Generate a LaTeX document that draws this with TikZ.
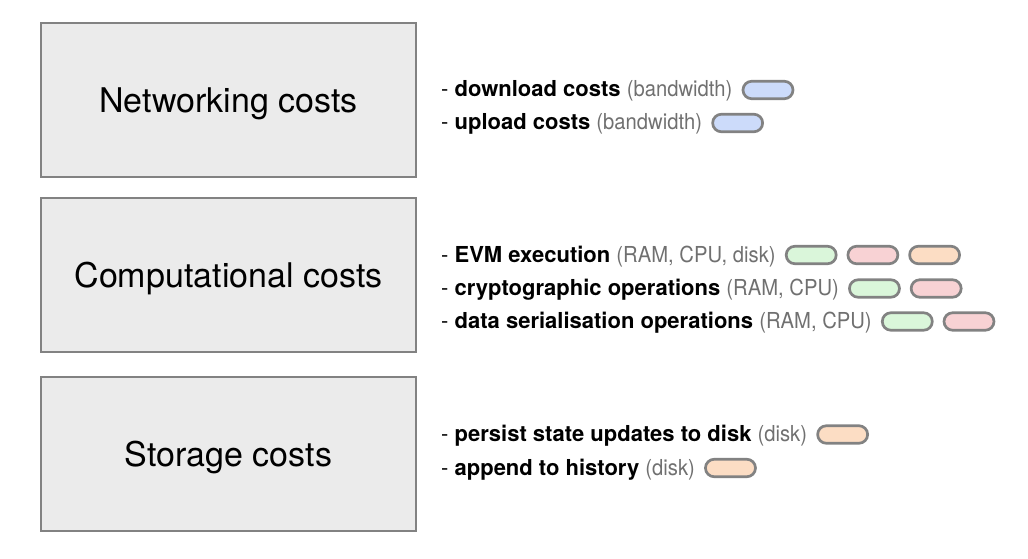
\documentclass[tikz,border=0pt]{standalone}
\usepackage{fontspec}
\setmainfont{TeX Gyre Heros}
\newfontfamily\litefont{TeX Gyre Heros}[FakeStretch=0.92]
\usetikzlibrary{positioning}
\definecolor{boxfill}{HTML}{EBEBEB}
\definecolor{edge}{HTML}{828282}
\definecolor{lightink}{HTML}{707070}
\definecolor{bwfill}{HTML}{CCDBFA}
\definecolor{ramfill}{HTML}{DAF6DA}
\definecolor{cpufill}{HTML}{F8D2D4}
\definecolor{diskfill}{HTML}{FCDDC4}
\newcommand{\lite}[1]{{\litefont\color{lightink}#1}}
\tikzset{costbox/.style = {draw=edge, fill=boxfill, line width=2pt,
                           minimum width=375pt, minimum height=154pt, text depth=0pt,
                           font=\fontsize{34}{40}\selectfont}}
\tikzset{item/.style = {anchor=base west, inner sep=0, text height=19pt,
                        text depth=5pt, font=\fontsize{22}{26}\selectfont}}
\tikzset{pill/.style = {draw=edge, line width=2.7pt, rounded corners=8.7pt,
                        minimum width=50pt, minimum height=17.5pt, inner sep=0}}
\tikzset{bw/.style = {pill, fill=bwfill}}
\tikzset{ram/.style = {pill, fill=ramfill}}
\tikzset{cpu/.style = {pill, fill=cpufill}}
\tikzset{disk/.style = {pill, fill=diskfill}}

\begin{document}
\begin{tikzpicture}[x=1pt, y=-1pt]
    \useasboundingbox (0,0) rectangle (1028,559);
    \node [costbox] (net) at (228.5, 100) {Networking costs};
    \node [costbox] (comp) at (228.5, 275) {Computational costs};
    \node [costbox] (stor) at (228.5, 454) {Storage costs};

    \node [item] (down) at (441, 97) {- \textbf{download costs} \lite{(bandwidth)}};
    \node [item] (up) at (441, 130) {- \textbf{upload costs} \lite{(bandwidth)}};
    \node [bw, right=9pt of down] (down-bw) {};
    \node [bw, right=9pt of up] (up-bw) {};

    \node [item] (evm) at (441, 262) {- \textbf{EVM execution} \lite{(RAM, CPU, disk)}};
    \node [item] (crypto) at (441, 295.5) {- \textbf{cryptographic operations} \lite{(RAM, CPU)}};
    \node [item] (ser) at (441, 328.5) {- \textbf{data serialisation operations} \lite{(RAM, CPU)}};
    \foreach \row in {evm, crypto, ser} {
      \node [ram, right=9pt of \row] (\row-ram) {};
      \node [cpu, right=9pt of \row-ram] (\row-cpu) {};
    }
    \node [disk, right=9pt of evm-cpu] (evm-disk) {};

    \node [item] (persist) at (441, 441.5) {- \textbf{persist state updates to disk} \lite{(disk)}};
    \node [item] (hist) at (441, 475) {- \textbf{append to history} \lite{(disk)}};
    \node [disk, right=9pt of persist] (persist-disk) {};
    \node [disk, right=9pt of hist] (hist-disk) {};
\end{tikzpicture}
\end{document}
